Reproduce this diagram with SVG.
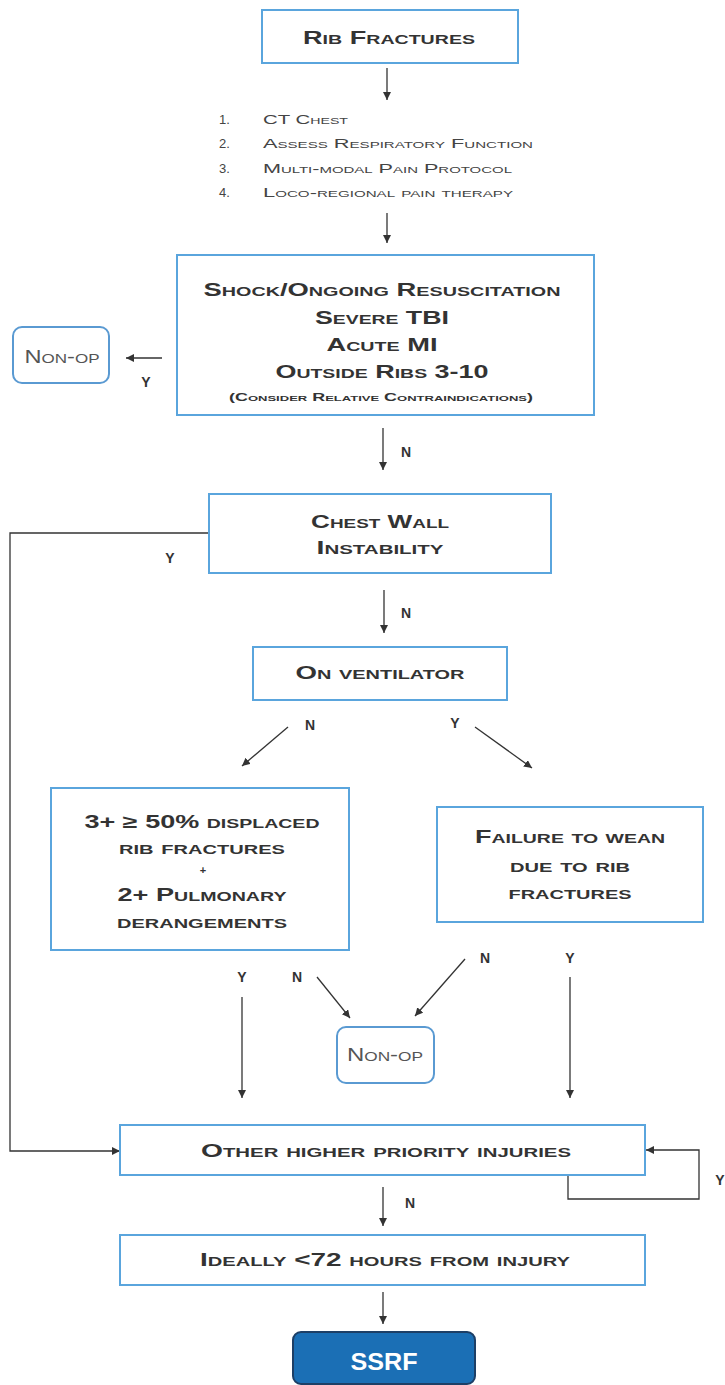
<svg xmlns="http://www.w3.org/2000/svg" width="725" height="1385" viewBox="0 0 725 1385">
<style>
.box{fill:#fff;stroke:#5aa5dd;stroke-width:2}
.rbox{fill:#fff;stroke:#5a9ad2;stroke-width:2}
.t{font-family:"Liberation Sans",Arial,sans-serif;font-weight:bold;font-variant:small-caps;fill:#333;text-anchor:middle}
.li{font-family:"Liberation Sans",Arial,sans-serif;font-variant:small-caps;fill:#444;font-size:13px}
.np{font-family:"Liberation Sans",Arial,sans-serif;font-variant:small-caps;fill:#555;font-size:18px;text-anchor:middle}
.lbl{font-family:"Liberation Sans",Arial,sans-serif;font-weight:bold;fill:#333;font-size:14px;text-anchor:middle}
.c{fill:none;stroke:#333;stroke-width:1.3}
</style>
<defs>
<marker id="ah" markerUnits="userSpaceOnUse" markerWidth="10" markerHeight="10" refX="8" refY="4" orient="auto">
<path d="M0,0 L8,4 L0,8 Z" fill="#333"/>
</marker>
</defs>
<rect width="725" height="1385" fill="#fff"/>

<g id="connectors">
<line class="c" x1="387" y1="68" x2="387" y2="100" marker-end="url(#ah)"/>
<line class="c" x1="387" y1="213" x2="387" y2="243" marker-end="url(#ah)"/>
<line class="c" x1="162" y1="358" x2="126" y2="358" marker-end="url(#ah)"/>
<line class="c" x1="383" y1="428" x2="383" y2="470" marker-end="url(#ah)"/>
<line class="c" x1="384" y1="590" x2="384" y2="633" marker-end="url(#ah)"/>
<line class="c" x1="288" y1="727" x2="242" y2="766" marker-end="url(#ah)"/>
<line class="c" x1="475" y1="727" x2="532" y2="768" marker-end="url(#ah)"/>
<line class="c" x1="242" y1="997" x2="242" y2="1098" marker-end="url(#ah)"/>
<line class="c" x1="317" y1="977" x2="350" y2="1018" marker-end="url(#ah)"/>
<line class="c" x1="465" y1="959" x2="415" y2="1016" marker-end="url(#ah)"/>
<line class="c" x1="570" y1="977" x2="570" y2="1098" marker-end="url(#ah)"/>
<polyline class="c" points="209,533 10,533 10,1151 120,1151" marker-end="url(#ah)"/>
<polyline class="c" points="568,1175 568,1199 699,1199 699,1150 646,1150" marker-end="url(#ah)"/>
<line class="c" x1="383" y1="1187" x2="383" y2="1226" marker-end="url(#ah)"/>
<line class="c" x1="383" y1="1292" x2="383" y2="1324" marker-end="url(#ah)"/>
<text class="lbl" x="146" y="387">Y</text>
<text class="lbl" x="406" y="457">N</text>
<text class="lbl" x="170" y="563">Y</text>
<text class="lbl" x="406" y="618">N</text>
<text class="lbl" x="310" y="730">N</text>
<text class="lbl" x="455" y="728">Y</text>
<text class="lbl" x="242" y="982">Y</text>
<text class="lbl" x="297" y="982">N</text>
<text class="lbl" x="485" y="963">N</text>
<text class="lbl" x="570" y="963">Y</text>
<text class="lbl" x="410" y="1208">N</text>
<text class="lbl" x="720" y="1185">Y</text>
</g>

<g id="rib-fractures">
<rect class="box" x="262" y="10" width="256" height="53"/>
<text class="t" x="389" y="44" font-size="18" textLength="172" lengthAdjust="spacingAndGlyphs">Rib Fractures</text>
</g>

<g id="steps">
<text class="li" x="219" y="124">1.</text>
<text class="li" x="263" y="124" textLength="85" lengthAdjust="spacingAndGlyphs">CT Chest</text>
<text class="li" x="219" y="148">2.</text>
<text class="li" x="263" y="148" textLength="270" lengthAdjust="spacingAndGlyphs">Assess Respiratory Function</text>
<text class="li" x="219" y="173">3.</text>
<text class="li" x="263" y="173" textLength="249" lengthAdjust="spacingAndGlyphs">Multi-modal Pain Protocol</text>
<text class="li" x="219" y="197">4.</text>
<text class="li" x="263" y="197" textLength="250" lengthAdjust="spacingAndGlyphs">Loco-regional pain therapy</text>
</g>

<g id="contraindications">
<rect class="box" x="177" y="255" width="417" height="160"/>
<text class="t" x="382" y="296" font-size="18" textLength="357" lengthAdjust="spacingAndGlyphs">Shock/Ongoing Resuscitation</text>
<text class="t" x="382" y="324" font-size="18" textLength="134" lengthAdjust="spacingAndGlyphs">Severe TBI</text>
<text class="t" x="382" y="351" font-size="18" textLength="111" lengthAdjust="spacingAndGlyphs">Acute MI</text>
<text class="t" x="382" y="378" font-size="18" textLength="213" lengthAdjust="spacingAndGlyphs">Outside Ribs 3-10</text>
<text class="t" x="381" y="401" font-size="11" textLength="304" lengthAdjust="spacingAndGlyphs">(Consider Relative Contraindications)</text>
</g>

<g id="nonop-top">
<rect class="rbox" x="13" y="327" width="96" height="56" rx="9"/>
<text class="np" x="62" y="363" textLength="75" lengthAdjust="spacingAndGlyphs">Non-op</text>
</g>

<g id="chest-wall">
<rect class="box" x="209" y="494" width="342" height="79"/>
<text class="t" x="380" y="528" font-size="18" textLength="138" lengthAdjust="spacingAndGlyphs">Chest Wall</text>
<text class="t" x="380" y="554" font-size="18" textLength="127" lengthAdjust="spacingAndGlyphs">Instability</text>
</g>

<g id="ventilator">
<rect class="box" x="253" y="647" width="254" height="53"/>
<text class="t" x="380" y="679" font-size="18" textLength="169" lengthAdjust="spacingAndGlyphs">On ventilator</text>
</g>

<g id="displaced">
<rect class="box" x="51" y="788" width="298" height="162"/>
<text class="t" x="202" y="828" font-size="18" textLength="235" lengthAdjust="spacingAndGlyphs">3+ ≥ 50% displaced</text>
<text class="t" x="202" y="854" font-size="18" textLength="166" lengthAdjust="spacingAndGlyphs">rib fractures</text>
<text class="t" x="203" y="874" font-size="11">+</text>
<text class="t" x="202" y="901" font-size="18" textLength="169" lengthAdjust="spacingAndGlyphs">2+ Pulmonary</text>
<text class="t" x="202" y="928" font-size="18" textLength="170" lengthAdjust="spacingAndGlyphs">derangements</text>
</g>

<g id="failure-wean">
<rect class="box" x="437" y="807" width="266" height="115"/>
<text class="t" x="570" y="843" font-size="18" textLength="190" lengthAdjust="spacingAndGlyphs">Failure to wean</text>
<text class="t" x="570" y="872" font-size="18" textLength="120" lengthAdjust="spacingAndGlyphs">due to rib</text>
<text class="t" x="570" y="899" font-size="18" textLength="123" lengthAdjust="spacingAndGlyphs">fractures</text>
</g>

<g id="nonop-mid">
<rect class="rbox" x="337" y="1027" width="97" height="56" rx="9"/>
<text class="np" x="385" y="1061" textLength="76" lengthAdjust="spacingAndGlyphs">Non-op</text>
</g>

<g id="other-injuries">
<rect class="box" x="120" y="1125" width="525" height="50"/>
<text class="t" x="386" y="1157" font-size="18" textLength="370" lengthAdjust="spacingAndGlyphs">Other higher priority injuries</text>
</g>

<g id="timing">
<rect class="box" x="120" y="1235" width="525" height="50"/>
<text class="t" x="385" y="1266" font-size="18" textLength="370" lengthAdjust="spacingAndGlyphs">Ideally &lt;72 hours from injury</text>
</g>

<g id="ssrf">
<rect x="293" y="1332" width="182" height="52" rx="8" fill="#1b6fb5" stroke="#1d3f66" stroke-width="2"/>
<text x="384" y="1370" font-family="Liberation Sans, Arial, sans-serif" font-weight="bold" font-size="24" fill="#fff" text-anchor="middle" textLength="67" lengthAdjust="spacingAndGlyphs">SSRF</text>
</g>
</svg>
